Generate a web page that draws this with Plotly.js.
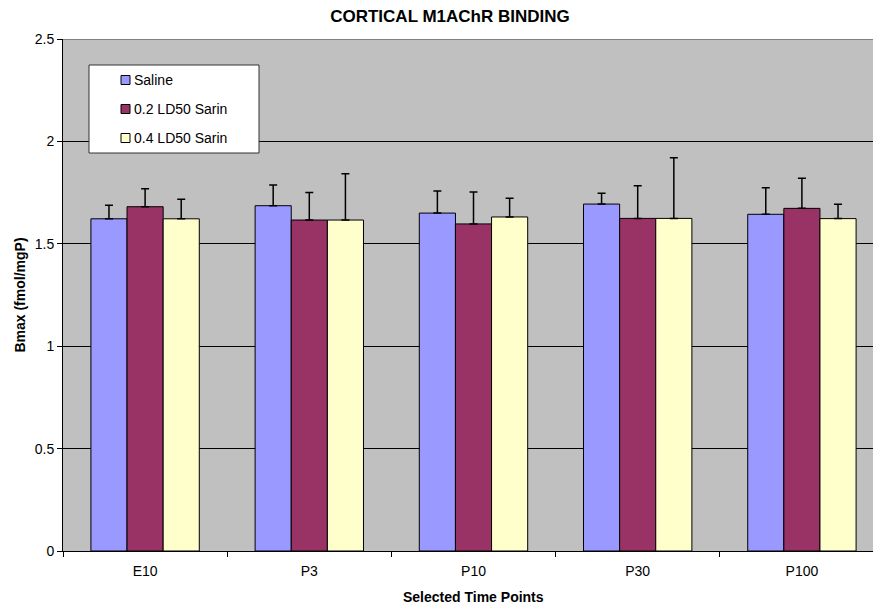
<!DOCTYPE html>
<html>
<head>
<meta charset="utf-8">
<script src="https://cdn.plot.ly/plotly-3.0.1.min.js"></script>
<style>html,body{margin:0;padding:0;background:#fff;}#chart{width:873px;height:608px;}</style>
</head>
<body>
<div id="chart"></div>
<script>
const categories = ["E10", "P3", "P10", "P30", "P100"];
const seriesNames = ["Saline", "0.2 LD50 Sarin", "0.4 LD50 Sarin"];
const saline = [1.622, 1.686, 1.650, 1.694, 1.644];
const saline_err = [0.066, 0.101, 0.108, 0.053, 0.130];
const sarin02 = [1.681, 1.616, 1.597, 1.624, 1.673];
const sarin02_err = [0.088, 0.135, 0.156, 0.160, 0.147];
const sarin04 = [1.622, 1.616, 1.631, 1.624, 1.623];
const sarin04_err = [0.095, 0.226, 0.091, 0.296, 0.070];
const colors = ["#9999FF", "#993366", "#FFFFCC"];
const yTicks = [0, 0.5, 1, 1.5, 2, 2.5];
const yTickText = ["0", "0.5", "1", "1.5", "2", "2.5"];

const font = "Arial, 'Liberation Sans', sans-serif";
const vals = [saline, sarin02, sarin04];
const errs = [saline_err, sarin02_err, sarin04_err];

const traces = vals.map((v, i) => ({
  type: "bar",
  name: seriesNames[i],
  x: categories,
  y: v,
  marker: {color: colors[i], line: {color: "#000000", width: 1}},
  error_y: {
    type: "data", symmetric: false, array: errs[i],
    arrayminus: errs[i].map(() => 0),
    color: "#000000", thickness: 1.5, width: 4
  },
  hoverinfo: "x+y+name"
}));

// plot area geometry (pixels) used for legend placement in paper units
const L = 63, W = 810, T = 39, H = 512;
const px = x => (x - L) / W;
const py = y => (T + H - y) / H;

const shapes = [{
  type: "line", xref: "paper", yref: "y", x0: 0, x1: 1, y0: 2.5, y1: 2.5,
  line: {color: "#808080", width: 2}, layer: "above"
}, {
  type: "rect", xref: "paper", yref: "paper",
  x0: px(89), x1: px(259), y0: py(65), y1: py(153),
  fillcolor: "#ffffff", line: {color: "#333333", width: 1}, layer: "above"
}];
const annotations = [];
const itemY = [80, 109, 138];
seriesNames.forEach((name, i) => {
  shapes.push({
    type: "rect", xref: "paper", yref: "paper",
    x0: px(121), x1: px(130), y0: py(itemY[i] - 4.5), y1: py(itemY[i] + 4.5),
    fillcolor: colors[i], line: {color: "#000000", width: 1}, layer: "above"
  });
  annotations.push({
    xref: "paper", yref: "paper", x: px(132), y: py(itemY[i]),
    xanchor: "left", yanchor: "middle", showarrow: false,
    text: name, font: {family: font, size: 14, color: "#000000"}
  });
});
annotations.push({
  xref: "paper", yref: "paper", x: px(473), y: py(597),
  xanchor: "center", yanchor: "middle", showarrow: false,
  text: "<b>Selected Time Points</b>", font: {family: font, size: 14, color: "#000000"}
});

const layout = {
  width: 873, height: 608,
  margin: {l: L, r: 0, t: T, b: 608 - T - H, pad: 0},
  paper_bgcolor: "#ffffff",
  plot_bgcolor: "#C0C0C0",
  font: {family: font, size: 14, color: "#000000"},
  title: {
    text: "<b>CORTICAL M1AChR BINDING</b>",
    font: {family: font, size: 17, color: "#000000"},
    x: 450 / 873, xref: "container", xanchor: "center",
    y: 1 - 16 / 608, yref: "container", yanchor: "middle"
  },
  barmode: "group",
  bargap: 0.34,
  bargroupgap: 0,
  showlegend: false,
  xaxis: {
    type: "category",
    range: [-0.5, 4.433],
    tickson: "boundaries",
    ticks: "outside", ticklen: 5, tickcolor: "#000000",
    ticklabelstandoff: 7,
    showline: true, linecolor: "#000000", linewidth: 1,
    showgrid: false, zeroline: false,
    tickfont: {family: font, size: 14, color: "#000000"},
    fixedrange: true
  },
  yaxis: {
    range: [0, 2.5],
    tickvals: yTicks, ticktext: yTickText,
    ticks: "outside", ticklen: 5, tickcolor: "#000000",
    showline: true, linecolor: "#000000", linewidth: 1,
    showgrid: true, gridcolor: "#000000", gridwidth: 1,
    zeroline: false,
    tickfont: {family: font, size: 14, color: "#000000"},
    title: {text: "<b>Bmax (fmol/mgP)</b>", font: {family: font, size: 14, color: "#000000"}},
    fixedrange: true
  },
  shapes: shapes,
  annotations: annotations
};

Plotly.newPlot("chart", traces, layout, {displayModeBar: false, staticPlot: true});
</script>
</body>
</html>
